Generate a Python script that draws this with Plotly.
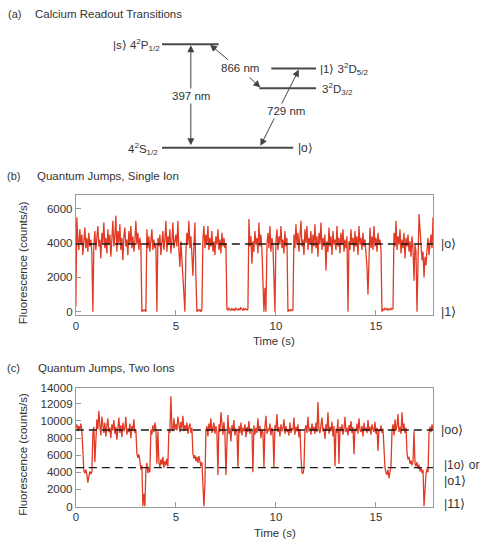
import plotly.graph_objects as go

# ---------------- data ----------------
DT = 0.05  # s per sample

single_ion = [
    300, 5500, 4200, 3600, 4800, 3900, 4500, 3300, 4100, 4900, 3700, 4300, 3500, 4600, 3800, 4200, 3400, 0, 3900, 4700,
    3600, 4400, 5000, 3800, 4200, 3100, 4600, 4000, 5200, 3700, 4300, 3400, 4800, 3900, 4500, 3200, 4100, 5300, 3800, 4400,
    5600, 3500, 4700, 4000, 5100, 3600, 4300, 3000, 4400, 4900, 3800, 4200, 3300, 4700, 3900, 5000, 3700, 4400, 3500, 4100,
    5300, 3900, 4600, 3600, 4300, 3800, 0, 100, 50, 100, 0, 4800, 3700, 4400, 3500, 4100, 4800, 3600, 4200, 3700,
    3900, 0, 4300, 3800, 4500, 3300, 4000, 4700, 3600, 4200, 5300, 3500, 4400, 3900, 4800, 3400, 4100, 5200, 3700, 4300,
    4500, 3800, 5300, 3600, 2600, 4100, 3000, 2000, 1200, 0, 3500, 4600, 3900, 5300, 3700, 4400, 3300, 2100, 3800, 5200,
    2000, 0, 100, 50, 120, 0, 100, 4200, 5000, 3700, 4500, 3900, 5000, 3600, 4300, 3800, 4700, 3500, 4100, 3300,
    4400, 3900, 4800, 3600, 4200, 3400, 4600, 3800, 4300, 3700, 4000, 150, 100, 200, 120, 80, 180, 100, 150, 60,
    200, 120, 90, 170, 110, 230, 130, 80, 190, 120, 160, 90, 140, 5400, 3800, 4400, 2800, 4100, 3500, 4700,
    3900, 4300, 3400, 5200, 3800, 4500, 3600, 2200, 0, 1400, 0, 3900, 4600, 3700, 5000, 3500, 4300, 3900, 2000, 0,
    4100, 4800, 3600, 4400, 3900, 5000, 3700, 4200, 3400, 4700, 3800, 4300, 0, 100, 50, 130, 60, 100, 4500, 3700,
    5100, 3900, 4600, 3500, 4400, 5300, 3800, 4200, 3300, 4800, 4000, 5000, 3600, 4300, 3900, 4700, 3400, 4500, 3800, 5100,
    3700, 4400, 3200, 4600, 3900, 5200, 3600, 4300, 3800, 4500, 2400, 4100, 3500, 4900, 3800, 4400, 3300, 4700, 3900, 4200,
    3600, 5000, 3800, 4300, 3400, 4600, 3900, 4800, 3500, 4200, 3700, 4400, 0, 4100, 3600, 4800, 3900, 4300, 3500, 4700,
    3800, 4400, 3300, 5000, 3900, 4300, 3600, 4600, 3800, 4200, 3400, 2600, 1000, 4100, 4900, 3700, 4400, 3600, 5000, 3800,
    4300, 3500, 4600, 3900, 4200, 3600, 0, 150, 100, 200, 120, 180, 90, 160, 110, 200, 130, 170, 4600, 3800,
    5300, 3600, 4400, 3900, 4800, 3400, 4200, 3700, 4600, 3100, 4300, 3800, 4500, 3500, 4100, 3200, 4400, 3700, 1800, 3900,
    3500, 0, 4200, 5700, 4800, 3800, 3000, 3500, 2000, 3200, 2700, 3600, 4300, 3300, 3900, 4500, 3700, 5500,
]

two_ions = [
    9200, 9600, 8800, 9400, 9000, 9700, 8900, 6000, 4200, 3900, 4300, 3700, 2800, 3500, 4100, 3800, 4000, 8500, 9300, 5200,
    8800, 10200, 9000, 11200, 9500, 8300, 10500, 9100, 8600, 9800, 8200, 9400, 10300, 8700, 9200, 8000, 9600, 8900, 10100, 8500,
    9300, 7800, 9000, 10400, 8600, 9500, 8100, 9800, 8800, 9200, 10500, 8400, 9100, 8700, 9700, 8000, 9400, 8900, 10200, 8600,
    9000, 6200, 5700, 6100, 5400, 4300, 4800, 0, 1500, 0, 4200, 5100, 3900, 4500, 4000, 9000, 8400, 9500, 8700, 9800,
    9100, 5000, 8800, 5200, 4600, 5500, 4900, 5800, 4500, 5300, 4800, 5600, 4700, 9000, 8600, 12900, 9200, 8800, 10300, 9000,
    9600, 8900, 10500, 9300, 8700, 9900, 9100, 10600, 8800, 9500, 9000, 9800, 8500, 9300, 9700, 8600, 9200, 6200, 5600, 6000,
    5300, 5800, 5100, 5900, 5400, 4700, 5200, 3000, 0, 2500, 8800, 9400, 8200, 9700, 8900, 10300, 8600, 9200, 9800, 8500,
    9400, 8800, 3700, 9600, 8700, 11000, 9000, 8400, 9900, 8600, 3700, 9300, 10700, 8500, 9200, 7600, 9500, 8800, 10100, 8300,
    9100, 8700, 4500, 9400, 8600, 9800, 8300, 9200, 8800, 9600, 8100, 9300, 8700, 10000, 8500, 9100, 8900, 4000, 9500, 8400,
    9200, 8600, 10300, 8800, 9400, 8000, 9000, 8700, 4600, 9300, 10600, 8500, 9100, 8800, 9700, 8300, 9200, 8600, 4500, 9500,
    8900, 10800, 8700, 9300, 8200, 9600, 8800, 9100, 10200, 8500, 9400, 8700, 9000, 8300, 9800, 8600, 9200, 8900, 10400, 8400,
    9300, 8800, 9600, 8100, 9000, 5800, 4000, 3800, 4500, 8900, 9500, 8600, 10500, 8800, 9200, 8400, 9700, 8900, 9300, 8500,
    9800, 8700, 12200, 9000, 8600, 9500, 10400, 8800, 9200, 7900, 9600, 8900, 11000, 8500, 9300, 8800, 9900, 8200, 9400, 4700,
    9100, 8600, 10200, 5000, 9300, 8800, 9600, 8400, 9000, 10500, 8700, 9200, 8300, 9500, 8900, 10000, 8600, 9300, 6100, 9100,
    8800, 9700, 8500, 10300, 9000, 8700, 9400, 8200, 9800, 8900, 9200, 8600, 10100, 8800, 9300, 8400, 9600, 9000, 8700, 9900,
    8500, 9200, 6500, 9000, 8800, 9500, 8600, 9100, 7000, 4500, 4000, 3700, 4300, 3300, 4100, 4700, 8800, 9600, 8300, 10200,
    8900, 9400, 10800, 8700, 9300, 8500, 11000, 9000, 9700, 8600, 9200, 6200, 5500, 5800, 5000, 5400, 4800, 5300, 8800, 5000,
    4700, 5200, 4400, 4900, 4100, 4600, 3900, 4300, 0, 2500, 3800, 4400, 4000, 8600, 9300, 8700, 9600, 9000,
]

single_levels = [3950]          # |0> fluorescence level
two_levels = [8950, 4550]       # |00>, |10>/|01> levels

x_ticks = [0, 5, 10, 15]
yb_ticks = [0, 2000, 4000, 6000]
yc_ticks = [0, 2000, 4000, 6000, 8000, 10000, 12000, 13800]
yc_ticktext = ["0", "2000", "4000", "6000", "8000", "10000", "12009", "14000"]

t_single = [i * DT for i in range(len(single_ion))]
t_two = [i * DT for i in range(len(two_ions))]

# ---------------- styling ----------------
W, H = 483, 549
FONT = "Liberation Sans, Arial, Helvetica, sans-serif"
TXT = "#333333"
RED = "#e23b25"
FRAME = "#9a9a9a"


def px_dom(x0, x1):
    return [x0 / W, x1 / W]


def py_dom(ytop, ybot):
    return [1 - ybot / H, 1 - ytop / H]


fig = go.Figure()
fig.add_trace(go.Scatter(x=t_single, y=single_ion, mode="lines",
                         line=dict(color=RED, width=1.3), xaxis="x", yaxis="y",
                         hoverinfo="skip"))
fig.add_trace(go.Scatter(x=t_two, y=two_ions, mode="lines",
                         line=dict(color=RED, width=1.3), xaxis="x2", yaxis="y2",
                         hoverinfo="skip"))
# invisible trace for the pixel-space diagram axis
fig.add_trace(go.Scatter(x=[], y=[], xaxis="x3", yaxis="y3"))

common_x = dict(range=[0, 17.85], tickvals=x_ticks, ticks="inside", ticklen=5,
                tickcolor=FRAME, showline=True, linecolor=FRAME, linewidth=1,
                mirror=True, showgrid=False, zeroline=False,
                tickfont=dict(family=FONT, size=11.5, color=TXT))
common_y = dict(ticks="inside", ticklen=5, tickcolor=FRAME, showline=True,
                linecolor=FRAME, linewidth=1, mirror=True, showgrid=False,
                zeroline=False, tickfont=dict(family=FONT, size=11.5, color=TXT))

fig.update_layout(
    width=W, height=H, autosize=False,
    margin=dict(l=0, r=0, t=0, b=0),
    paper_bgcolor="white", plot_bgcolor="rgba(0,0,0,0)",
    showlegend=False,
    xaxis=dict(domain=px_dom(73.3, 432.7), anchor="y", **common_x),
    yaxis=dict(domain=py_dom(193.3, 316), anchor="x", range=[-200, 6800],
               tickvals=yb_ticks, **common_y),
    xaxis2=dict(domain=px_dom(73.3, 432.7), anchor="y2", **common_x),
    yaxis2=dict(domain=py_dom(391, 511.7), anchor="x2", range=[0, 13800],
                tickvals=yc_ticks, ticktext=yc_ticktext, **common_y),
    xaxis3=dict(domain=[0, 1], anchor="y3", range=[0, W], visible=False, fixedrange=True),
    yaxis3=dict(domain=[0, 1], anchor="x3", range=[H, 0], visible=False, fixedrange=True),
)

shapes = []
for lv in single_levels:
    shapes.append(dict(type="line", xref="x domain", yref="y", x0=0, x1=1, y0=lv, y1=lv,
                       line=dict(color="#1a1a1a", width=1.4, dash="8px,5px")))
for lv in two_levels:
    shapes.append(dict(type="line", xref="x2 domain", yref="y2", x0=0, x1=1, y0=lv, y1=lv,
                       line=dict(color="#1a1a1a", width=1.4, dash="8px,5px")))

# energy level diagram (schematic, pixel space)
levels = [(160, 217, 39), (160, 292, 145), (270, 315, 64), (258, 315, 84)]
for x0, x1, y in levels:
    shapes.append(dict(type="line", xref="x3", yref="y3", x0=x0, x1=x1, y0=y, y1=y,
                       line=dict(color="#4a4a4a", width=2)))
fig.update_layout(shapes=shapes)

ann = []
ARW = "#444444"


def arrow(x, y, ax, ay, both=False):
    ann.append(dict(xref="x3", yref="y3", axref="x3", ayref="y3", x=x, y=y, ax=ax, ay=ay,
                    text="", showarrow=True, arrowhead=2, arrowsize=1.4, arrowwidth=1,
                    arrowcolor=ARW, standoff=0, startstandoff=0,
                    arrowside="end+start" if both else "end", startarrowhead=2,
                    startarrowsize=1.4))


arrow(189, 40, 189, 144, both=True)          # 397 nm
arrow(208.3, 39.5, 227.7, 56)                 # 866 nm to P
arrow(259, 83.3, 246.7, 71.7)                 # 866 nm to D3/2
arrow(297.7, 65, 258.3, 144.5, both=True)     # 729 nm


def text(x, y, s, size=11.5, xanchor="left", angle=0, bg=None, color=TXT):
    # small correction for the annotation box padding
    if xanchor == "left":
        x -= 3
    elif xanchor == "right":
        x += 3
    d = dict(xref="x3", yref="y3", x=x, y=y, text=s, showarrow=False,
             xanchor=xanchor, yanchor="middle", textangle=angle,
             font=dict(family=FONT, size=size, color=color))
    if bg:
        d.update(bgcolor=bg, borderpad=1)
    ann.append(d)


text(189, 92, "397 nm", xanchor="center", bg="white")
text(238, 63, "866 nm", xanchor="center", bg="white")
text(285, 107, "729 nm", xanchor="center", bg="white")

text(157, 40, "|s\u27e9 4<sup>2</sup>P<sub>1/2</sub>", xanchor="right")
text(155, 146, "4<sup>2</sup>S<sub>1/2</sub>", xanchor="right")
text(298, 145, "|o\u27e9", xanchor="left", size=12)
text(320, 64, "|1\u27e9 3<sup>2</sup>D<sub>5/2</sub>", xanchor="left")
text(322, 85, "3<sup>2</sup>D<sub>3/2</sub>", xanchor="left")

# panel headings
text(6, 8, "(a)", size=11)
text(33, 8, "Calcium Readout Transitions", size=11.5)
text(5, 174, "(b)", size=11)
text(35, 174, "Quantum Jumps, Single Ion", size=11.5)
text(5, 370, "(c)", size=11)
text(36, 370, "Quantum Jumps, Two Ions", size=11.5)

# axis titles
text(20, 262, "Fluorescence (counts/s)", xanchor="center", angle=-90)
text(273, 342, "Time (s)", xanchor="center")
text(20, 458, "Fluorescence (counts/s)", xanchor="center", angle=-90)
text(274, 539, "Time (s)", xanchor="center")

# state labels
text(442, 243, "|o\u27e9", size=12.5)
text(442, 313, "|1\u27e9", size=12.5)
text(442, 433, "|oo\u27e9", size=12.5)
text(445, 469, "|1o\u27e9 or", size=12)
text(445, 486, "|o1\u27e9", size=12.5)
text(445, 509, "|11\u27e9", size=12.5)

fig.update_layout(annotations=ann)
fig.write_html("out.html")
